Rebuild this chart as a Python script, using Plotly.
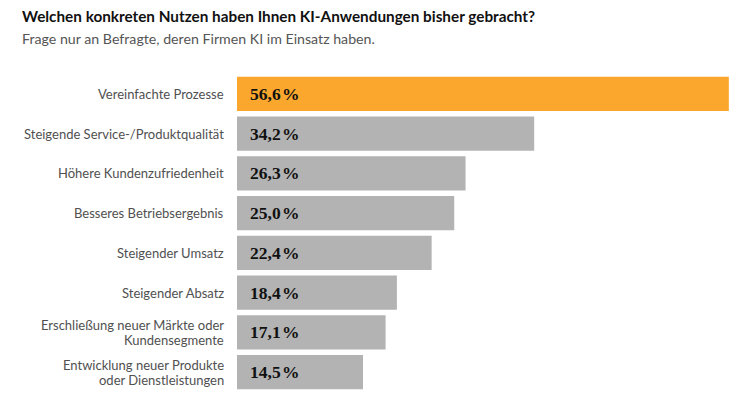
import plotly.graph_objects as go

categories = [
    "Vereinfachte Prozesse",
    "Steigende Service-/Produktqualität",
    "Höhere Kundenzufriedenheit",
    "Besseres Betriebsergebnis",
    "Steigender Umsatz",
    "Steigender Absatz",
    "Erschließung neuer Märkte oder<br>Kundensegmente",
    "Entwicklung neuer Produkte<br>oder Dienstleistungen",
]
values = [56.6, 34.2, 26.3, 25.0, 22.4, 18.4, 17.1, 14.5]
value_labels = ["56,6\u200a%", "34,2\u200a%", "26,3\u200a%", "25,0\u200a%", "22,4\u200a%", "18,4\u200a%", "17,1\u200a%", "14,5\u200a%"]

ORANGE = "#FBA72E"
GREY = "#B3B3B3"
colors = [ORANGE] + [GREY] * (len(values) - 1)
ids = list(range(len(categories)))

fig = go.Figure(go.Bar(
    x=values, y=ids, orientation="h",
    marker=dict(color=colors, line=dict(width=0)),
    hoverinfo="skip",
))

label_font = dict(family="Lato", size=13, color="#505050")
for i, (c, v, t) in enumerate(zip(categories, values, value_labels)):
    lines = c.split("<br>")
    n = len(lines)
    for k, ln in enumerate(lines):
        fig.add_annotation(
            x=0, y=i, xref="x", yref="y", text=ln, showarrow=False,
            xanchor="right", yanchor="middle", xshift=-11,
            yshift=((n - 1) / 2 - k) * 15,
            font=label_font,
        )
    fig.add_annotation(
        x=0, y=i, xref="x", yref="y", text="<b>" + t + "</b>", showarrow=False,
        xanchor="left", yanchor="middle", xshift=11,
        font=dict(family="Liberation Serif", size=17.5, color="#111111"),
    )

fig.update_layout(
    width=743, height=395,
    margin=dict(l=237, r=0, t=74, b=3, pad=0),
    paper_bgcolor="white", plot_bgcolor="white",
    bargap=0.14,
    showlegend=False,
    xaxis=dict(range=[0, 58.23], visible=False, fixedrange=True),
    yaxis=dict(range=[7.5, -0.5], visible=False, fixedrange=True),
)

fig.add_annotation(
    x=0, y=1, xref="paper", yref="paper", xanchor="left", yanchor="middle",
    xshift=-217, yshift=74 - 16,
    text="<b>Welchen konkreten Nutzen haben Ihnen KI-Anwendungen bisher gebracht?</b>",
    showarrow=False, font=dict(family="Lato", size=15.3, color="#111111"),
)
fig.add_annotation(
    x=0, y=1, xref="paper", yref="paper", xanchor="left", yanchor="middle",
    xshift=-217, yshift=74 - 38,
    text="Frage nur an Befragte, deren Firmen KI im Einsatz haben.",
    showarrow=False, font=dict(family="Lato", size=14.2, color="#555555"),
)

fig.write_html(
    "out.html",
    config={"displayModeBar": False, "staticPlot": True},
    post_script="document.body.style.margin='0';document.body.style.padding='0';",
)
